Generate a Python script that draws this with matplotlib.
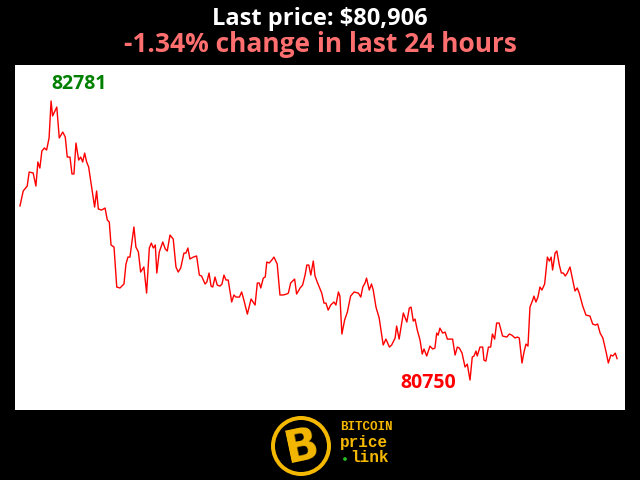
import matplotlib
matplotlib.use('Agg')
import matplotlib.pyplot as plt
from matplotlib.patches import Circle

# hours in the last 24h window
hours = [0.00, 0.13, 0.29, 0.37, 0.53, 0.64, 0.72, 0.80, 0.88, 0.98,
         1.07, 1.17, 1.25, 1.31, 1.48, 1.58, 1.72, 1.82, 1.90, 2.01,
         2.09, 2.17, 2.25, 2.36, 2.44, 2.52, 2.60, 2.68, 2.76, 3.00,
         3.08, 3.15, 3.28, 3.42, 3.51, 3.59, 3.66, 3.78, 3.89, 4.02,
         4.18, 4.26, 4.34, 4.42, 4.58, 4.66, 4.76, 4.85, 4.98, 5.09,
         5.20, 5.28, 5.36, 5.44, 5.50, 5.60, 5.74, 5.84, 5.92, 6.03,
         6.16, 6.27, 6.36, 6.46, 6.59, 6.67, 6.75, 6.83, 6.97, 7.10,
         7.21, 7.30, 7.44, 7.51, 7.60, 7.68, 7.75, 7.84, 7.93, 8.04,
         8.12, 8.20, 8.28, 8.37, 8.51, 8.60, 8.68, 8.82, 8.91, 9.00,
         9.14, 9.29, 9.45, 9.54, 9.62, 9.68, 9.78, 9.86, 9.92, 10.02,
         10.12, 10.21, 10.34, 10.45, 10.58, 10.72, 10.79, 10.88, 10.96, 11.04,
         11.12, 11.26, 11.36, 11.46, 11.53, 11.61, 11.69, 11.79, 11.86, 11.95,
         12.13, 12.22, 12.30, 12.39, 12.49, 12.62, 12.70, 12.80, 12.86, 12.94,
         13.05, 13.16, 13.29, 13.43, 13.60, 13.70, 13.78, 13.87, 13.93, 14.04,
         14.13, 14.20, 14.31, 14.44, 14.60, 14.71, 14.85, 14.94, 15.08, 15.14,
         15.24, 15.41, 15.55, 15.65, 15.72, 15.81, 15.88, 15.97, 16.08, 16.17,
         16.24, 16.35, 16.48, 16.59, 16.68, 16.75, 16.81, 16.88, 16.99, 17.09,
         17.18, 17.29, 17.39, 17.49, 17.58, 17.66, 17.77, 17.89, 17.98, 18.09,
         18.18, 18.25, 18.33, 18.38, 18.49, 18.60, 18.65, 18.73, 18.83, 18.92,
         18.99, 19.08, 19.16, 19.26, 19.40, 19.57, 19.67, 19.77, 19.90, 19.99,
         20.07, 20.18, 20.26, 20.34, 20.42, 20.50, 20.61, 20.66, 20.74, 20.82,
         20.90, 20.98, 21.09, 21.20, 21.28, 21.35, 21.41, 21.51, 21.58, 21.68,
         21.76, 21.84, 21.92, 22.00, 22.11, 22.21, 22.31, 22.40, 22.48, 22.62,
         22.75, 22.91, 23.02, 23.13, 23.22, 23.32, 23.43, 23.57, 23.65, 23.75,
         23.83, 23.93, 24.00]

prices = [82017, 82126, 82162, 82264, 82257, 82162, 82337, 82293, 82417, 82439,
          82424, 82512, 82781, 82672, 82737, 82512, 82555, 82519, 82373, 82373,
          82250, 82250, 82475, 82351, 82373, 82337, 82402, 82337, 82301, 82009,
          82126, 81995, 81987, 82002, 81915, 81900, 81733, 81718, 81427, 81420,
          81449, 81594, 81645, 81645, 81864, 81718, 81682, 81536, 81573, 81383,
          81711, 81747, 81711, 81733, 81529, 81682, 81755, 81704, 81689, 81805,
          81776, 81573, 81536, 81565, 81674, 81674, 81711, 81631, 81645, 81653,
          81514, 81507, 81449, 81463, 81529, 81434, 81427, 81500, 81441, 81434,
          81449, 81514, 81478, 81478, 81318, 81369, 81354, 81354, 81391, 81332,
          81230, 81340, 81296, 81456, 81456, 81420, 81492, 81500, 81609, 81602,
          81623, 81645, 81594, 81369, 81369, 81376, 81383, 81456, 81471, 81485,
          81376, 81420, 81441, 81514, 81587, 81587, 81514, 81616, 81507, 81463,
          81383, 81310, 81310, 81259, 81296, 81318, 81296, 81391, 81361, 81085,
          81187, 81245, 81361, 81391, 81383, 81354, 81427, 81456, 81492, 81405,
          81449, 81405, 81281, 81201, 81005, 81048, 80990, 81005, 81056, 81143,
          81048, 81238, 81172, 81274, 81281, 81179, 81194, 81114, 81041, 80939,
          80976, 80925, 80997, 80976, 80983, 81092, 81077, 81128, 81092, 81099,
          81048, 81048, 81048, 80932, 80990, 80983, 80946, 80845, 80866, 80750,
          80917, 80925, 80961, 80925, 80990, 80990, 80895, 80888, 80990, 80990,
          81085, 81048, 81165, 81165, 81070, 81063, 81085, 81077, 81056, 81063,
          81056, 80874, 80954, 81012, 80997, 81281, 81332, 81361, 81318, 81354,
          81427, 81405, 81449, 81645, 81616, 81645, 81551, 81674, 81689, 81587,
          81529, 81529, 81507, 81529, 81573, 81485, 81398, 81420, 81383, 81289,
          81223, 81216, 81158, 81150, 81158, 81092, 81056, 80946, 80874, 80932,
          80925, 80946, 80906]

title = 'Last price: $80,906'
subtitle = '-1.34% change in last 24 hours'

plt.rcParams['font.family'] = ['Open Sans', 'DejaVu Sans']

fig = plt.figure(figsize=(6.4, 4.8), dpi=100, facecolor='black')
ax = fig.add_axes([15/640, 70/480, 610/640, 345/480])
ax.set_facecolor('white')
ax.plot(hours, prices, color='#ff0000', lw=1)
ax.set_xlim(-0.2, 24.32)
ax.set_ylim(80532, 83043)
ax.set_xticks([])
ax.set_yticks([])
for s in ax.spines.values():
    s.set_visible(False)

# max / min labels
imax = prices.index(max(prices))
imin = prices.index(min(prices))
ax.annotate(str(max(prices)), (hours[imax], prices[imax]), xytext=(0, 12),
            textcoords='offset points', color='green', fontsize=14,
            fontweight='bold', ha='left', va='center')
ax.annotate(str(min(prices)), (hours[imin], prices[imin]), xytext=(-10, -2),
            textcoords='offset points', color='red', fontsize=14,
            fontweight='bold', ha='right', va='center')

fig.text(0.5, 1 - 19/480, title, color='white', fontsize=17,
         fontweight='bold', ha='center', va='center')
fig.text(0.5, 1 - 45/480, subtitle, color='#ff6f6f', fontsize=19,
         fontweight='bold', ha='center', va='center')

# logo
lax = fig.add_axes([260/640, 0, 160/640, 70/480])
lax.set_xlim(0, 160)
lax.set_ylim(0, 70)
lax.set_aspect('equal')
lax.axis('off')
gold = '#f5b800'
mono = ['Liberation Mono', 'DejaVu Sans Mono']
lax.add_patch(Circle((41, 34), 30, fc=gold, ec='none'))
lax.add_patch(Circle((41, 34), 26, fc='black', ec='none'))
lax.text(42, 33, 'B', color=gold, fontsize=32, fontweight='bold',
         ha='center', va='center', rotation=12, family='DejaVu Sans')
lax.text(80, 53, 'BITCOIN', color=gold, fontsize=9, fontweight='bold',
         family=mono, va='center')
lax.text(80, 38, 'price', color=gold, fontsize=11.5, fontweight='bold',
         family=mono, va='center')
lax.text(90, 22, 'link', color=gold, fontsize=11.5, fontweight='bold',
         family=mono, va='center')
lax.add_patch(Circle((85, 21), 1.8, fc='#22cc22', ec='none'))

fig.savefig('out.png', dpi=100, facecolor='black')
